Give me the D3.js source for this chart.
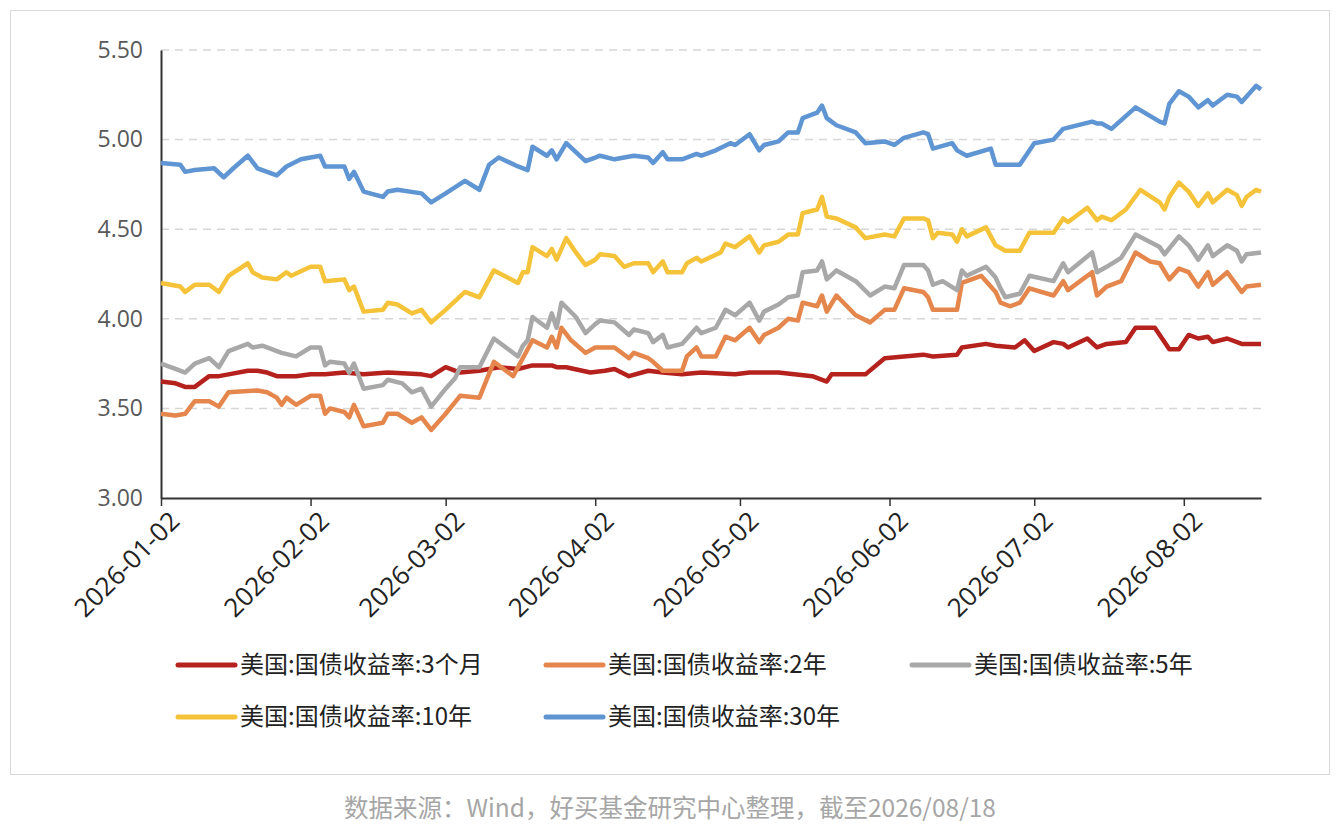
<!DOCTYPE html>
<html>
<head>
<meta charset="utf-8">
<script src="https://cdn.jsdelivr.net/npm/d3@7"></script>
<style>
  body { margin: 0; background: #fff; font-family: "Noto Sans CJK SC", "Noto Sans", sans-serif; }
</style>
</head>
<body>
<div id="root"></div>
<script>
// each point: [days after 2026-01-02, yield %]
var names = ['美国:国债收益率:3个月', '美国:国债收益率:2年', '美国:国债收益率:5年', '美国:国债收益率:10年', '美国:国债收益率:30年'];
var colors = ['#b5221e', '#e5874c', '#a8a8a8', '#f5c339', '#5f95d3'];

var y3m = [[0,3.65],[3,3.64],[5,3.62],[7,3.62],[10,3.68],[12,3.68],[14,3.69],[18,3.71],[20,3.71],[22,3.70],[24,3.68],[26,3.68],[28,3.68],[31,3.69],[34,3.69],[38,3.70],[42,3.69],[47,3.70],[54,3.69],[56,3.68],[59,3.73],[62,3.70],[66,3.71],[70,3.73],[74,3.72],[77,3.74],[81,3.74],[82,3.73],[84,3.73],[89,3.70],[92,3.71],[94,3.72],[97,3.68],[101,3.71],[104,3.70],[108,3.69],[112,3.70],[119,3.69],[122,3.70],[128,3.70],[135,3.68],[138,3.65],[139,3.69],[146,3.69],[150,3.78],[154,3.79],[158,3.80],[160,3.79],[165,3.80],[166,3.84],[171,3.86],[173,3.85],[177,3.84],[179,3.88],[181,3.82],[185,3.87],[187,3.86],[188,3.84],[192,3.89],[194,3.84],[196,3.86],[200,3.87],[202,3.95],[206,3.95],[209,3.83],[211,3.83],[213,3.91],[215,3.89],[217,3.90],[218,3.87],[221,3.89],[224,3.86],[228,3.86]];

var y2y = [[0,3.47],[3,3.46],[5,3.47],[7,3.54],[10,3.54],[12,3.51],[14,3.59],[20,3.60],[22,3.59],[24,3.56],[25,3.52],[26,3.56],[28,3.52],[31,3.57],[33,3.57],[34,3.47],[35,3.50],[38,3.48],[39,3.45],[40,3.52],[42,3.40],[46,3.42],[47,3.47],[49,3.47],[52,3.42],[54,3.45],[56,3.38],[59,3.47],[62,3.57],[66,3.56],[69,3.76],[73,3.68],[77,3.88],[80,3.84],[81,3.90],[82,3.84],[83,3.95],[85,3.88],[88,3.81],[90,3.84],[91,3.84],[94,3.84],[97,3.78],[98,3.81],[101,3.78],[102,3.76],[104,3.71],[108,3.71],[109,3.79],[111,3.84],[112,3.79],[115,3.79],[117,3.90],[119,3.88],[122,3.95],[124,3.87],[125,3.91],[128,3.95],[130,4.00],[132,3.99],[133,4.09],[136,4.07],[137,4.13],[138,4.04],[140,4.13],[144,4.02],[147,3.98],[150,4.05],[152,4.05],[154,4.17],[158,4.15],[159,4.12],[160,4.05],[165,4.05],[166,4.20],[170,4.24],[173,4.15],[174,4.09],[176,4.07],[178,4.09],[180,4.17],[185,4.13],[187,4.21],[188,4.16],[193,4.26],[194,4.13],[196,4.18],[199,4.21],[202,4.37],[205,4.32],[207,4.31],[209,4.22],[211,4.28],[213,4.26],[215,4.18],[217,4.26],[218,4.19],[221,4.26],[224,4.15],[225,4.18],[228,4.19]];

var y5y = [[0,3.75],[3,3.72],[5,3.70],[7,3.75],[10,3.78],[12,3.73],[14,3.82],[18,3.86],[19,3.84],[21,3.85],[25,3.81],[28,3.79],[31,3.84],[33,3.84],[34,3.74],[35,3.76],[38,3.75],[39,3.70],[40,3.75],[42,3.61],[46,3.63],[47,3.66],[50,3.64],[52,3.59],[54,3.61],[56,3.51],[59,3.61],[61,3.67],[62,3.73],[66,3.73],[69,3.89],[74,3.79],[75,3.85],[76,3.88],[77,4.01],[80,3.95],[81,4.03],[82,3.95],[83,4.09],[86,4.01],[88,3.92],[90,3.97],[91,3.99],[94,3.98],[97,3.91],[98,3.94],[101,3.92],[102,3.87],[104,3.91],[105,3.84],[108,3.86],[111,3.95],[112,3.92],[115,3.95],[117,4.05],[119,4.02],[122,4.09],[124,3.99],[125,4.04],[128,4.08],[130,4.12],[132,4.13],[133,4.26],[136,4.27],[137,4.32],[138,4.22],[140,4.27],[144,4.21],[147,4.13],[150,4.18],[152,4.17],[154,4.30],[158,4.30],[159,4.27],[160,4.19],[162,4.21],[165,4.16],[166,4.27],[167,4.24],[171,4.29],[173,4.23],[174,4.17],[175,4.12],[178,4.14],[180,4.24],[185,4.21],[187,4.31],[188,4.26],[193,4.37],[194,4.26],[196,4.29],[199,4.34],[202,4.47],[207,4.40],[208,4.36],[211,4.46],[213,4.41],[215,4.33],[217,4.41],[218,4.35],[221,4.41],[223,4.38],[224,4.32],[225,4.36],[228,4.37]];

var y10y = [[0,4.20],[4,4.18],[5,4.15],[7,4.19],[10,4.19],[12,4.15],[14,4.24],[18,4.31],[19,4.26],[21,4.23],[24,4.22],[26,4.26],[27,4.24],[31,4.29],[33,4.29],[34,4.21],[38,4.22],[39,4.16],[40,4.18],[42,4.04],[46,4.05],[47,4.09],[49,4.08],[52,4.03],[54,4.05],[56,3.98],[59,4.05],[63,4.15],[66,4.12],[69,4.27],[74,4.20],[75,4.26],[76,4.26],[77,4.40],[80,4.35],[81,4.39],[82,4.33],[84,4.45],[86,4.37],[88,4.30],[90,4.33],[91,4.36],[94,4.35],[96,4.29],[98,4.31],[101,4.31],[102,4.26],[104,4.32],[105,4.26],[108,4.26],[109,4.31],[111,4.34],[112,4.32],[116,4.37],[117,4.42],[119,4.40],[122,4.46],[124,4.37],[125,4.41],[128,4.43],[130,4.47],[132,4.47],[133,4.59],[136,4.61],[137,4.68],[138,4.57],[140,4.56],[144,4.51],[146,4.45],[150,4.47],[152,4.46],[154,4.56],[158,4.56],[159,4.55],[160,4.45],[161,4.48],[164,4.47],[165,4.43],[166,4.50],[167,4.46],[171,4.51],[173,4.41],[175,4.38],[178,4.38],[180,4.48],[185,4.48],[187,4.56],[188,4.54],[192,4.62],[194,4.55],[195,4.57],[197,4.55],[200,4.61],[203,4.72],[207,4.65],[208,4.61],[209,4.68],[211,4.76],[213,4.71],[215,4.63],[217,4.70],[218,4.65],[221,4.72],[223,4.69],[224,4.63],[225,4.68],[227,4.72],[228,4.71]];

var y30y = [[0,4.87],[4,4.86],[5,4.82],[7,4.83],[11,4.84],[13,4.79],[15,4.84],[18,4.91],[20,4.84],[24,4.80],[26,4.85],[29,4.89],[33,4.91],[34,4.85],[38,4.85],[39,4.78],[40,4.82],[42,4.71],[46,4.68],[47,4.71],[49,4.72],[54,4.70],[56,4.65],[59,4.70],[63,4.77],[66,4.72],[68,4.86],[70,4.90],[74,4.85],[76,4.83],[77,4.96],[80,4.91],[81,4.94],[82,4.89],[84,4.98],[88,4.88],[90,4.90],[91,4.91],[94,4.89],[96,4.90],[98,4.91],[101,4.90],[102,4.87],[104,4.93],[105,4.89],[108,4.89],[111,4.92],[112,4.91],[115,4.94],[118,4.98],[119,4.97],[122,5.03],[124,4.94],[125,4.97],[128,4.99],[130,5.04],[132,5.04],[133,5.12],[136,5.15],[137,5.19],[138,5.12],[140,5.08],[144,5.04],[146,4.98],[150,4.99],[152,4.97],[154,5.01],[158,5.04],[159,5.03],[160,4.95],[164,4.98],[165,4.94],[167,4.91],[172,4.95],[173,4.86],[178,4.86],[181,4.98],[185,5.00],[187,5.06],[193,5.10],[194,5.09],[195,5.09],[197,5.06],[202,5.18],[207,5.10],[208,5.09],[209,5.20],[211,5.27],[213,5.24],[215,5.18],[217,5.22],[218,5.19],[221,5.25],[223,5.24],[224,5.21],[227,5.30],[228,5.28]];

var series = [y3m, y2y, y5y, y10y, y30y];
var yTicks = [3.0, 3.5, 4.0, 4.5, 5.0, 5.5];
var xTickLabels = ['2026-01-02', '2026-02-02', '2026-03-02', '2026-04-02', '2026-05-02', '2026-06-02', '2026-07-02', '2026-08-02'];

var W = 1340, H = 834;
var start = new Date(2026, 0, 2), end = new Date(2026, 7, 18);
var parse = d3.timeParse('%Y-%m-%d');

var svg = d3.select('#root').append('svg')
  .attr('width', W)
  .attr('height', H);

// outer frame
svg.append('rect')
  .attr('x', 10.5).attr('y', 10.5)
  .attr('width', 1319).attr('height', 764)
  .attr('fill', 'none')
  .attr('stroke', '#d9d9d9');

var xScale = d3.scaleTime().domain([start, end]).range([161, 1261]);
var yScale = d3.scaleLinear().domain([3.0, 5.5]).range([498, 50]);

// dashed grid
svg.selectAll('line.grid')
  .data(yTicks.slice(1)).enter()
  .append('line')
  .attr('class', 'grid')
  .attr('x1', 161).attr('x2', 1261)
  .attr('y1', function(d) { return yScale(d); })
  .attr('y2', function(d) { return yScale(d); })
  .attr('stroke', '#d6d6d6')
  .attr('stroke-width', 1.5)
  .attr('stroke-dasharray', '8,6');

// y axis
var yAxis = d3.axisLeft(yScale).tickValues(yTicks).tickFormat(d3.format('.2f')).tickSize(0).tickPadding(18);
var gy = svg.append('g').attr('transform', 'translate(161,0)').call(yAxis);
gy.select('.domain').attr('stroke', '#333').attr('stroke-width', 2);
gy.selectAll('text').attr('font-size', 23).attr('fill', '#595959')
  .attr('font-family', '"Open Sans", "Noto Sans", sans-serif');

// x axis
var xAxis = d3.axisBottom(xScale)
  .tickValues(xTickLabels.map(parse))
  .tickFormat(d3.timeFormat('%Y-%m-%d'))
  .tickSize(8).tickSizeOuter(0);
var gx = svg.append('g').attr('transform', 'translate(0,498)').call(xAxis);
gx.select('.domain').attr('stroke', '#333').attr('stroke-width', 2);
gx.selectAll('line').attr('stroke', '#333').attr('stroke-width', 1.5);
gx.selectAll('text')
  .attr('font-size', 26)
  .attr('fill', '#222')
  .attr('font-family', '"Open Sans", "Noto Sans", sans-serif')
  .attr('text-anchor', 'end')
  .attr('dy', 0)
  .attr('transform', 'translate(12,17) rotate(-45)');

// lines
var line = d3.line()
  .x(function(d) { return xScale(d3.timeDay.offset(start, d[0])); })
  .y(function(d) { return yScale(d[1]); });

series.forEach(function(s, i) {
  svg.append('path')
    .datum(s)
    .attr('d', line)
    .attr('fill', 'none')
    .attr('stroke', colors[i])
    .attr('stroke-width', 4.5)
    .attr('stroke-linejoin', 'round');
});

// legend
var legendPos = [[178, 665], [546, 665], [912, 665], [178, 717], [546, 717]];
var legend = svg.selectAll('g.legend')
  .data(names).enter()
  .append('g')
  .attr('class', 'legend')
  .attr('transform', function(d, i) { return 'translate(' + legendPos[i][0] + ',' + legendPos[i][1] + ')'; });

legend.append('line')
  .attr('x1', 0).attr('x2', 57)
  .attr('stroke', function(d, i) { return colors[i]; })
  .attr('stroke-width', 5)
  .attr('stroke-linecap', 'round');

legend.append('text')
  .attr('x', 62).attr('y', 8)
  .attr('font-size', 24)
  .attr('fill', '#222')
  .text(function(d) { return d; });

// source note
svg.append('text')
  .attr('x', 670).attr('y', 817)
  .attr('text-anchor', 'middle')
  .attr('font-size', 24.5)
  .attr('fill', '#a6a6a6')
  .text('数据来源：Wind，好买基金研究中心整理，截至2026/08/18');
</script>
</body>
</html>
